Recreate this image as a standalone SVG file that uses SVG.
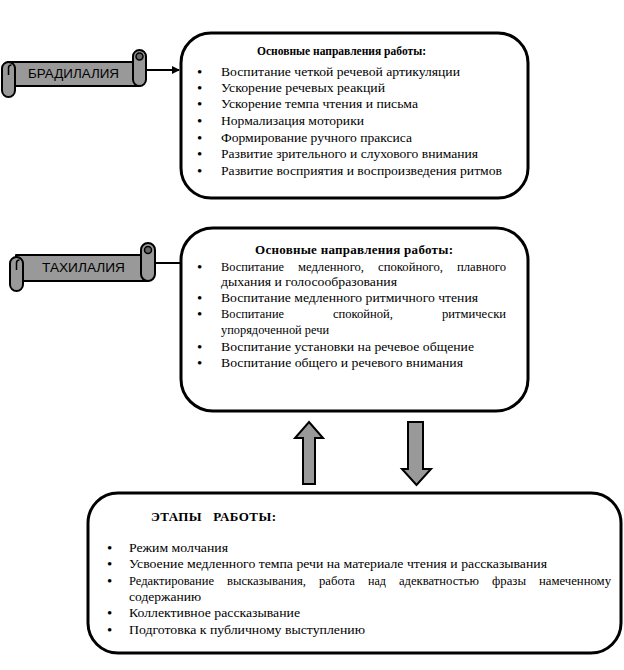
<svg xmlns="http://www.w3.org/2000/svg" width="624" height="670" viewBox="0 0 624 670">
<defs>
<style>
.box{fill:#fff;stroke:#000;stroke-width:3}
.scr{fill:#999;stroke:#000;stroke-width:2;stroke-linejoin:round}
.curl{fill:#666;stroke:#000;stroke-width:1.5}
.lbl{font-family:"Liberation Sans",Arial,sans-serif;font-size:13px;fill:#000}
.t{font-family:"Liberation Serif","Times New Roman",serif;font-size:13px;fill:#000}
.b{font-family:"Liberation Serif","Times New Roman",serif;font-size:13px;font-weight:bold;fill:#000}
.u{font-family:"Liberation Serif","Times New Roman",serif;font-size:15px;fill:#000}
.blk{fill:#999;stroke:#000;stroke-width:2;stroke-linejoin:miter}
.con{stroke:#000;stroke-width:2;fill:none}
</style>
<marker id="ah" markerWidth="8" markerHeight="8" refX="7" refY="4" orient="auto" markerUnits="userSpaceOnUse">
<path d="M0,0 L8,4 L0,8 z" fill="#000"/>
</marker>
</defs>
<rect width="624" height="670" fill="#fff"/>

<g id="scroll-bradilalia">
<rect class="scr" x="8" y="62" width="132" height="24"/>
<rect class="scr" x="133" y="50" width="13" height="36" rx="6.5"/>
<circle class="curl" cx="139.5" cy="56.5" r="3.5"/>
<rect class="scr" x="2" y="62" width="13" height="35" rx="6.5"/>
<path d="M8.5,75 L8.5,68 a3,3 0 0 1 3,-3" fill="none" stroke="#000" stroke-width="1.5"/>
<text class="lbl" x="28" y="78" textLength="91" lengthAdjust="spacingAndGlyphs">БРАДИЛАЛИЯ</text>
</g>

<g id="scroll-tahilalia">
<rect class="scr" x="16" y="255" width="132" height="26"/>
<rect class="scr" x="141" y="243" width="14" height="38" rx="7"/>
<circle class="curl" cx="148" cy="250" r="3.5"/>
<rect class="scr" x="10" y="257" width="13" height="34" rx="6.5"/>
<path d="M16.5,270 L16.5,263 a3,3 0 0 1 3,-3" fill="none" stroke="#000" stroke-width="1.5"/>
<text class="lbl" x="42" y="272" textLength="83" lengthAdjust="spacingAndGlyphs">ТАХИЛАЛИЯ</text>
</g>

<g id="connectors">
<line class="con" x1="146" y1="70" x2="179" y2="70" marker-end="url(#ah)"/>
<line class="con" x1="155" y1="263" x2="188" y2="263" marker-end="url(#ah)"/>
<polygon class="blk" points="309,422 323,438 315,438 315,484 303,484 303,438 295,438"/>
<polygon class="blk" points="408,422 423,422 423,469 431,469 416.5,485 402,469 408,469"/>
</g>

<g id="box-bradilalia">
<rect class="box" x="181" y="33" width="347" height="165" rx="30"/>
<text class="b" x="257" y="55" textLength="169" lengthAdjust="spacingAndGlyphs">Основные направления работы:</text>
<g class="u">
<text x="197" y="77">•</text><text x="197" y="93">•</text><text x="197" y="109">•</text><text x="197" y="126">•</text><text x="197" y="143">•</text><text x="197" y="159">•</text><text x="197" y="176">•</text>
</g>
<g class="t">
<text x="221" y="76" textLength="239" lengthAdjust="spacingAndGlyphs">Воспитание четкой речевой артикуляции</text>
<text x="221" y="92" textLength="164" lengthAdjust="spacingAndGlyphs">Ускорение речевых реакций</text>
<text x="221" y="108" textLength="197" lengthAdjust="spacingAndGlyphs">Ускорение темпа чтения и письма</text>
<text x="221" y="125" textLength="143" lengthAdjust="spacingAndGlyphs">Нормализация моторики</text>
<text x="221" y="142" textLength="191" lengthAdjust="spacingAndGlyphs">Формирование ручного праксиса</text>
<text x="221" y="158" textLength="257" lengthAdjust="spacingAndGlyphs">Развитие зрительного и слухового внимания</text>
<text x="221" y="175" textLength="281" lengthAdjust="spacingAndGlyphs">Развитие восприятия и воспроизведения ритмов</text>
</g>
</g>

<g id="box-tahilalia">
<rect class="box" x="181" y="228" width="347" height="183" rx="32"/>
<text class="b" x="255" y="254" textLength="198" lengthAdjust="spacing">Основные направления работы:</text>
<g class="u">
<text x="197" y="272">•</text><text x="197" y="303">•</text><text x="197" y="319">•</text><text x="197" y="352">•</text><text x="197" y="368">•</text>
</g>
<g class="t">
<text x="221" y="271" textLength="63" lengthAdjust="spacingAndGlyphs">Воспитание</text>
<text x="298" y="271" textLength="66" lengthAdjust="spacingAndGlyphs">медленного,</text>
<text x="378" y="271" textLength="65" lengthAdjust="spacingAndGlyphs">спокойного,</text>
<text x="457" y="271" textLength="49" lengthAdjust="spacingAndGlyphs">плавного</text>
<text x="221" y="286" textLength="176" lengthAdjust="spacingAndGlyphs">дыхания и голосообразования</text>
<text x="221" y="302" textLength="257" lengthAdjust="spacingAndGlyphs">Воспитание медленного ритмичного чтения</text>
<text x="221" y="318" textLength="63" lengthAdjust="spacingAndGlyphs">Воспитание</text>
<text x="333" y="318" textLength="60" lengthAdjust="spacingAndGlyphs">спокойной,</text>
<text x="442" y="318" textLength="64" lengthAdjust="spacingAndGlyphs">ритмически</text>
<text x="221" y="334" textLength="108" lengthAdjust="spacingAndGlyphs">упорядоченной речи</text>
<text x="221" y="351" textLength="253" lengthAdjust="spacingAndGlyphs">Воспитание установки на речевое общение</text>
<text x="221" y="367" textLength="242" lengthAdjust="spacingAndGlyphs">Воспитание общего и речевого внимания</text>
</g>
</g>

<g id="box-stages">
<rect class="box" x="88" y="493" width="533" height="160" rx="30"/>
<text class="b" x="151" y="521" xml:space="preserve" textLength="125" lengthAdjust="spacing">ЭТАПЫ   РАБОТЫ:</text>
<g class="u">
<text x="107" y="553">•</text><text x="107" y="569">•</text><text x="107" y="586">•</text><text x="107" y="618">•</text><text x="107" y="635">•</text>
</g>
<g class="t">
<text x="129" y="552" textLength="99" lengthAdjust="spacingAndGlyphs">Режим молчания</text>
<text x="129" y="568" textLength="418" lengthAdjust="spacingAndGlyphs">Усвоение медленного темпа речи на материале чтения и рассказывания</text>
<text x="129" y="585" textLength="85" lengthAdjust="spacingAndGlyphs">Редактирование</text>
<text x="227" y="585" textLength="79" lengthAdjust="spacingAndGlyphs">высказывания,</text>
<text x="319" y="585" textLength="36" lengthAdjust="spacingAndGlyphs">работа</text>
<text x="368" y="585" textLength="18" lengthAdjust="spacingAndGlyphs">над</text>
<text x="399" y="585" textLength="80" lengthAdjust="spacingAndGlyphs">адекватностью</text>
<text x="492" y="585" textLength="34" lengthAdjust="spacingAndGlyphs">фразы</text>
<text x="539" y="585" textLength="72" lengthAdjust="spacingAndGlyphs">намеченному</text>
<text x="129" y="601" textLength="72" lengthAdjust="spacingAndGlyphs">содержанию</text>
<text x="129" y="617" textLength="171" lengthAdjust="spacingAndGlyphs">Коллективное рассказывание</text>
<text x="129" y="634" textLength="236" lengthAdjust="spacingAndGlyphs">Подготовка к публичному выступлению</text>
</g>
</g>
</svg>
